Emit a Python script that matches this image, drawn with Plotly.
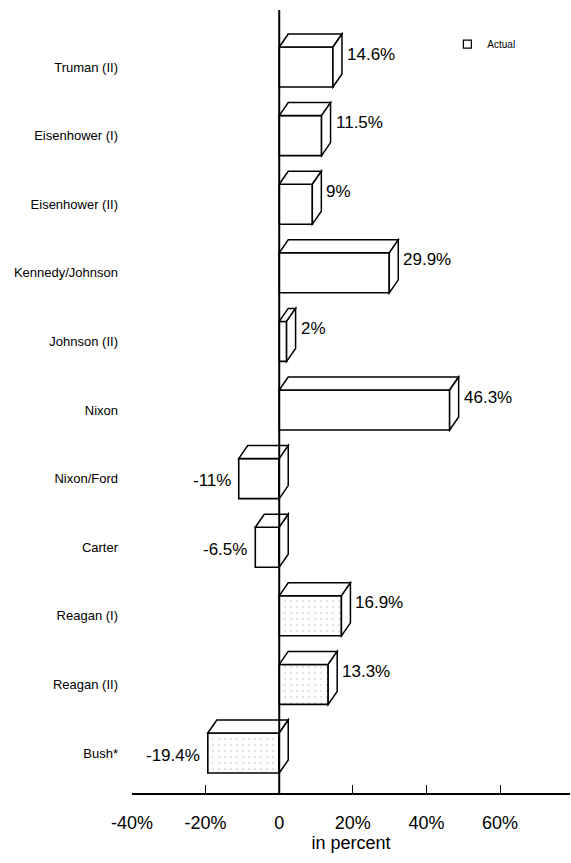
import plotly.graph_objects as go

# Percent change by administration
presidents = ["Truman (II)", "Eisenhower (I)", "Eisenhower (II)", "Kennedy/Johnson",
              "Johnson (II)", "Nixon", "Nixon/Ford", "Carter", "Reagan (I)",
              "Reagan (II)", "Bush*"]
change = [14.6, 11.5, 9, 29.9, 2, 46.3, -11, -6.5, 16.9, 13.3, -19.4]
value_labels = ["14.6%", "11.5%", "9%", "29.9%", "2%", "46.3%", "-11%", "-6.5%",
                "16.9%", "13.3%", "-19.4%"]
stippled = [False, False, False, False, False, False, False, False, True, True, True]

x_ticks = [-40, -20, 0, 20, 40, 60]
x_tick_text = ["-40%", "-20%", "0", "20%", "40%", "60%"]

# layout geometry
W, H = 571, 863
M_L, M_R, M_T, M_B = 132, 1, 10, 70
X_RANGE = [-40, 79]
Y_RANGE = [-0.583, 10.831]
plot_w = W - M_L - M_R
plot_h = H - M_T - M_B
px_x = plot_w / (X_RANGE[1] - X_RANGE[0])
px_y = plot_h / (Y_RANGE[1] - Y_RANGE[0])

BAR_W = 40 / px_y          # front-face thickness in category units
DX = 9 / px_x              # 3-D depth offset (x, data units)
DY = 13 / px_y             # 3-D depth offset (y, data units)

n = len(presidents)
ypos = [n - 1 - i for i in range(n)]

FONT = "Liberation Sans, Arial, Helvetica, sans-serif"

fig = go.Figure()

# front faces
fig.add_trace(go.Bar(
    x=change, y=ypos, orientation="h", width=BAR_W,
    marker=dict(
        color="white",
        line=dict(color="black", width=1.6),
        pattern=dict(shape=["." if s else "" for s in stippled],
                     fgcolor="#b5b5b5", bgcolor="white", size=6, solidity=0.1),
    ),
    showlegend=False, hoverinfo="skip",
))

# legend entry
fig.add_trace(go.Scatter(
    x=[None], y=[None], mode="markers", name="Actual",
    marker=dict(symbol="square", size=8, color="white",
                line=dict(color="black", width=1.2)),
))

shapes = []
half = BAR_W / 2
for v, c in zip(change, ypos):
    x0, x1 = min(0, v), max(0, v)
    top, bot = c + half, c - half
    # top face
    shapes.append(dict(
        type="path", xref="x", yref="y", layer="above",
        path=f"M{x0},{top} L{x0 + DX},{top + DY} L{x1 + DX},{top + DY} L{x1},{top} Z",
        fillcolor="white", line=dict(color="black", width=1.5)))
    # side face
    shapes.append(dict(
        type="path", xref="x", yref="y", layer="above",
        path=f"M{x1},{top} L{x1 + DX},{top + DY} L{x1 + DX},{bot + DY} L{x1},{bot} Z",
        fillcolor="white", line=dict(color="black", width=1.5)))

# zero reference line
shapes.append(dict(type="line", xref="x", yref="paper", x0=0, x1=0, y0=0, y1=1,
                   layer="above", line=dict(color="black", width=2)))

annotations = []
for v, c, t in zip(change, ypos, value_labels):
    if v >= 0:
        annotations.append(dict(x=v + DX, y=c, xref="x", yref="y", text=t,
                                showarrow=False, xanchor="left", yanchor="middle",
                                xshift=3, yshift=13,
                                font=dict(family=FONT, size=17, color="black")))
    else:
        annotations.append(dict(x=v, y=c, xref="x", yref="y", text=t,
                                showarrow=False, xanchor="right", yanchor="middle",
                                xshift=-6, yshift=-2,
                                font=dict(family=FONT, size=17, color="black")))

fig.update_layout(
    width=W, height=H,
    margin=dict(l=M_L, r=M_R, t=M_T, b=M_B, pad=0),
    paper_bgcolor="white", plot_bgcolor="white",
    font=dict(family=FONT, color="black"),
    shapes=shapes, annotations=annotations,
    showlegend=True,
    legend=dict(x=0.72, y=0.975, xanchor="left", yanchor="top",
                bgcolor="rgba(0,0,0,0)", borderwidth=0, itemwidth=30,
                font=dict(family=FONT, size=10, color="black")),
    xaxis=dict(
        range=X_RANGE, showgrid=False, zeroline=False,
        showline=True, linecolor="black", linewidth=2,
        ticks="inside", ticklen=8, tickwidth=1.3, tickcolor="black",
        tickvals=x_ticks, ticktext=x_tick_text,
        tickfont=dict(family=FONT, size=18, color="black"),
        ticklabelstandoff=12,
        title=dict(text="in percent", standoff=4,
                   font=dict(family=FONT, size=18, color="black")),
    ),
    yaxis=dict(
        range=Y_RANGE, showgrid=False, zeroline=False, showline=False,
        ticks="", tickvals=ypos, ticktext=presidents,
        tickfont=dict(family=FONT, size=13, color="black"),
        ticklabelstandoff=13,
    ),
)

fig.write_html("out.html")
